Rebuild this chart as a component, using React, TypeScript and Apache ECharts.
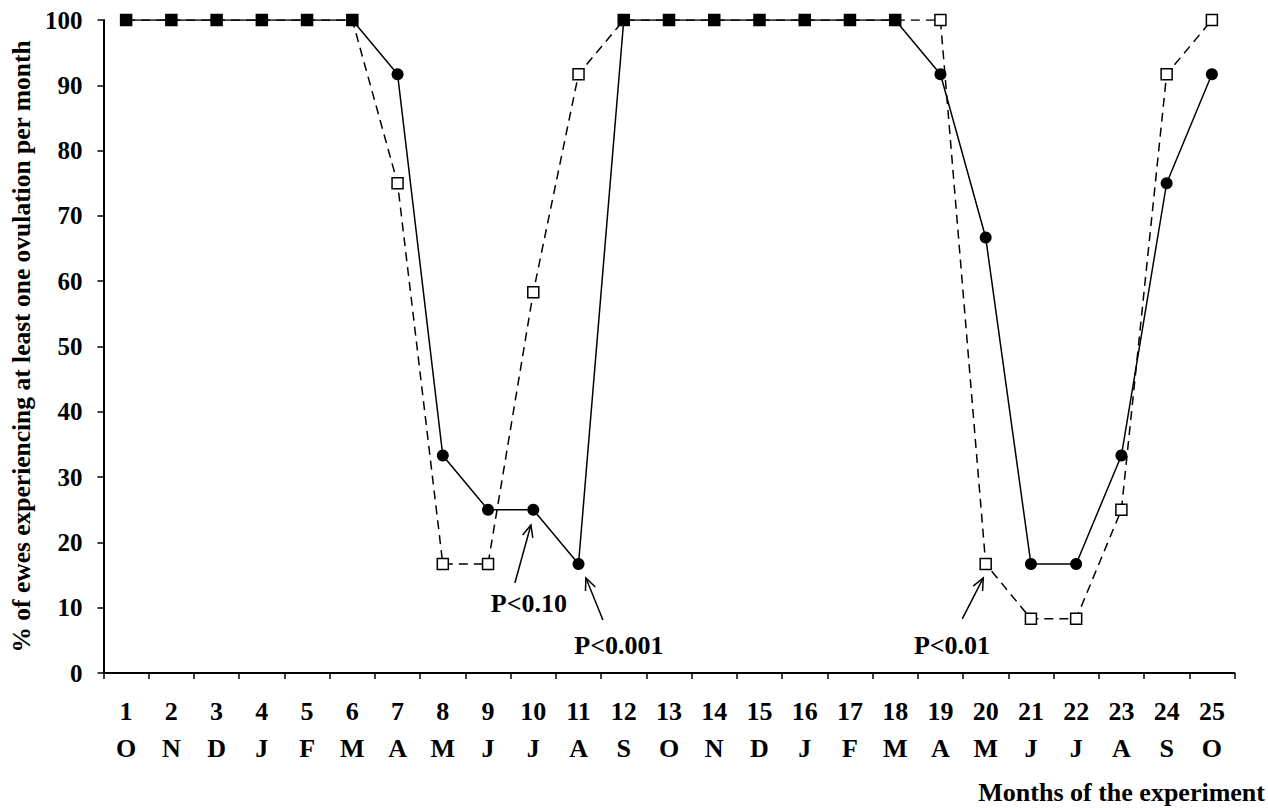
import React, { useEffect, useRef } from "react";
import * as echarts from "echarts";

const categories = ["1","2","3","4","5","6","7","8","9","10","11","12","13","14","15","16","17","18","19","20","21","22","23","24","25"];
const months = ["O","N","D","J","F","M","A","M","J","J","A","S","O","N","D","J","F","M","A","M","J","J","A","S","O"];
const circles = [100,100,100,100,100,100,91.7,33.3,25,25,16.7,100,100,100,100,100,100,100,91.7,66.7,16.7,16.7,33.3,75,91.7];
const squares = [100,100,100,100,100,100,75,16.7,16.7,58.3,91.7,100,100,100,100,100,100,100,100,16.7,8.3,8.3,25,91.7,100];
const yTicks = { min: 0, max: 100, interval: 10 };

const yTitle = "% of ewes experiencing at least one ovulation per month";
const xTitle = "Months of the experiment";

// annotations: which point they refer to (series 0 = circles, 1 = squares)
const annotations = [
  { text: "P<0.10", series: 0, index: 9, tip: [-2.4, 15.3], tail: [-18.4, 73.3], label: [-4.4, 93.3] },
  { text: "P<0.001", series: 0, index: 10, tip: [7.4, 14], tail: [24.4, 56], label: [40.4, 81.5] },
  { text: "P<0.01", series: 1, index: 19, tip: [-2.4, 14], tail: [-23.4, 55], label: [-33.7, 81.5] },
];

const FONT = "'Liberation Serif', 'Times New Roman', serif";

export default function App() {
  const ref = useRef<HTMLDivElement>(null);
  useEffect(() => {
    const chart = echarts.init(ref.current as HTMLDivElement, null, { renderer: "svg" });
    chart.setOption({
      animation: false,
      backgroundColor: "#fff",
      grid: { left: 103.5, top: 20, width: 1131, height: 653, containLabel: false },
      xAxis: {
        type: "category",
        data: categories,
        boundaryGap: true,
        axisLine: { lineStyle: { color: "#000", width: 2 } },
        axisTick: { show: true, length: 6, alignWithLabel: false, lineStyle: { color: "#000", width: 1.5 } },
        axisLabel: {
          interval: 0,
          margin: 20,
          color: "#000",
          fontFamily: FONT,
          fontWeight: "bold",
          fontSize: 26,
          lineHeight: 37,
          formatter: (v: string, i: number) => `${v}\n${months[i]}`,
        },
        splitLine: { show: false },
      },
      yAxis: {
        type: "value",
        min: yTicks.min,
        max: yTicks.max,
        interval: yTicks.interval,
        name: yTitle,
        nameLocation: "middle",
        nameRotate: 90,
        nameGap: 68,
        nameTextStyle: { color: "#000", fontFamily: FONT, fontWeight: "bold", fontSize: 25.5 },
        axisLine: { show: true, lineStyle: { color: "#000", width: 2 } },
        axisTick: { show: true, length: 6, lineStyle: { color: "#000", width: 1.5 } },
        axisLabel: { margin: 21, color: "#000", fontFamily: FONT, fontWeight: "bold", fontSize: 25 },
        splitLine: { show: false },
      },
      series: [
        {
          type: "line",
          data: circles,
          symbol: "circle",
          symbolSize: 12,
          itemStyle: { color: "#000" },
          lineStyle: { color: "#000", width: 1.5, type: "solid" },
          z: 2,
        },
        {
          type: "line",
          data: squares.map((v, i) => ({
            value: v,
            itemStyle: v === circles[i] ? { color: "#000", borderColor: "#000", borderWidth: 1.5 } : undefined,
          })),
          symbol: "rect",
          symbolSize: 11,
          itemStyle: { color: "#fff", borderColor: "#000", borderWidth: 1.5 },
          lineStyle: { color: "#000", width: 1.5, type: [9, 6] },
          z: 3,
        },
      ],
    });

    const g: any[] = [
      {
        type: "text",
        x: 1265,
        y: 792,
        style: { text: xTitle, fill: "#000", fontFamily: FONT, fontWeight: "bold", fontSize: 26, align: "right", verticalAlign: "middle" },
      },
    ];
    annotations.forEach((a) => {
      const vals = a.series === 0 ? circles : squares;
      const p = chart.convertToPixel({ gridIndex: 0 }, [a.index, vals[a.index]]) as number[];
      const tx = p[0] + a.tip[0], ty = p[1] + a.tip[1];
      const sx = p[0] + a.tail[0], sy = p[1] + a.tail[1];
      const ang = Math.atan2(sy - ty, sx - tx);
      const len = 13, spread = 0.42;
      const a1 = [tx + len * Math.cos(ang + spread), ty + len * Math.sin(ang + spread)];
      const a2 = [tx + len * Math.cos(ang - spread), ty + len * Math.sin(ang - spread)];
      g.push({ type: "line", shape: { x1: sx, y1: sy, x2: tx, y2: ty }, style: { stroke: "#000", lineWidth: 1.5 } });
      g.push({ type: "polyline", shape: { points: [a1, [tx, ty], a2] }, style: { stroke: "#000", lineWidth: 1.5, fill: null } });
      g.push({
        type: "text",
        x: p[0] + a.label[0],
        y: p[1] + a.label[1],
        style: { text: a.text, fill: "#000", fontFamily: FONT, fontWeight: "bold", fontSize: 26, align: "center", verticalAlign: "middle" },
      });
    });
    chart.setOption({ graphic: g });

    return () => chart.dispose();
  }, []);
  return <div ref={ref} style={{ position: "absolute", left: 0, top: 0, width: 1268, height: 808 }} />;
}
